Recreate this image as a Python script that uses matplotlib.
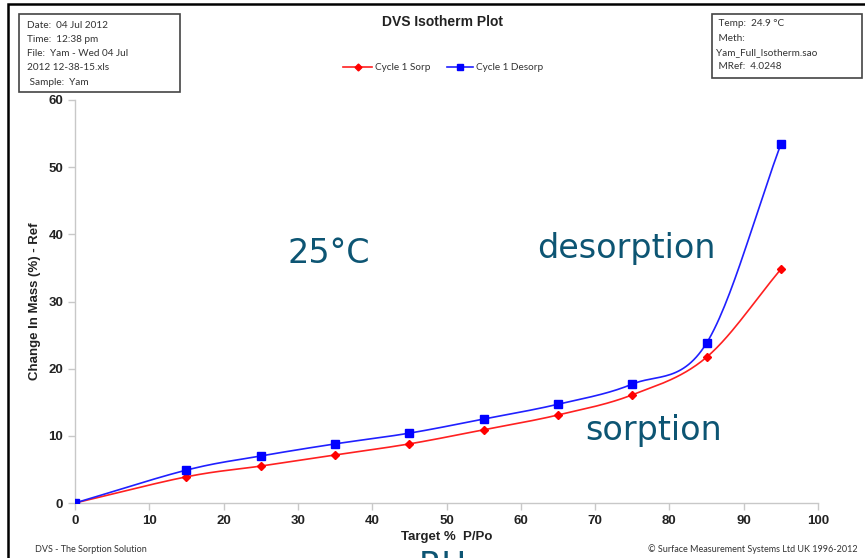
import numpy as np
import matplotlib
matplotlib.use("Agg")
import matplotlib.pyplot as plt
from matplotlib.patches import Rectangle

# -----------------------------
# Isotherm data
# -----------------------------
target_rh = [0, 15, 25, 35, 45, 55, 65, 75, 85, 95]
sorp = [0.0, 3.9, 5.5, 7.15, 8.8, 10.9, 13.1, 16.1, 21.7, 34.8]
desorp = [0.0, 4.9, 7.0, 8.8, 10.4, 12.5, 14.7, 17.7, 23.8, 53.4]

x_ticks = [0, 10, 20, 30, 40, 50, 60, 70, 80, 90, 100]
y_ticks = [0, 10, 20, 30, 40, 50, 60]

info_left = ["Date:  04 Jul 2012", "Time:  12:38 pm", "File:  Yam - Wed 04 Jul",
             "2012 12-38-15.xls", " Sample:  Yam"]
info_right = [" Temp:  24.9 \u00b0C", " Meth:", "Yam_Full_Isotherm.sao", " MRef:  4.0248"]

W, H = 865, 558
note_color = "#0d5573"


def smooth(xs, ys, n=30):
    # Catmull-Rom style smoothing, like spreadsheet "smoothed line"
    xs = np.asarray(xs, float)
    ys = np.asarray(ys, float)
    px = np.concatenate([[2 * xs[0] - xs[1]], xs, [2 * xs[-1] - xs[-2]]])
    py = np.concatenate([[2 * ys[0] - ys[1]], ys, [2 * ys[-1] - ys[-2]]])
    out_x, out_y = [], []
    t = np.linspace(0, 1, n)
    for i in range(1, len(px) - 2):
        for arr, out in ((px, out_x), (py, out_y)):
            p0, p1, p2, p3 = arr[i - 1], arr[i], arr[i + 1], arr[i + 2]
            seg = 0.5 * ((2 * p1) + (-p0 + p2) * t
                         + (2 * p0 - 5 * p1 + 4 * p2 - p3) * t ** 2
                         + (-p0 + 3 * p1 - 3 * p2 + p3) * t ** 3)
            out.extend(seg)
    return np.array(out_x), np.array(out_y)


def fx(px):
    return px / W


def fy(py):
    return 1 - py / H


fig = plt.figure(figsize=(W / 100, H / 100), dpi=100)

ax = fig.add_axes([fx(75), fy(503), fx(818) - fx(75), fy(100) - fy(503)])

sx, sy = smooth(target_rh, sorp)
dx, dy = smooth(target_rh, desorp)
ax.plot(sx, sy, color="#ff2020", lw=1.2, zorder=3)
ax.plot(dx, dy, color="#2020ff", lw=1.2, zorder=3)
ax.plot(target_rh, sorp, ls="none", marker="D", ms=4, color="#ff0000", zorder=4)
ax.plot(target_rh, desorp, ls="none", marker="s", ms=5.5, color="#0000ff", zorder=5)

ax.set_xlim(0, 100)
ax.set_ylim(0, 60)
ax.set_xticks(x_ticks)
ax.set_yticks(y_ticks)
for side in ["top", "right"]:
    ax.spines[side].set_visible(False)
for side in ["left", "bottom"]:
    ax.spines[side].set_color("#c8c8c8")
    ax.spines[side].set_linewidth(1.0)
ax.tick_params(colors="#c8c8c8", length=5, width=1.0, labelcolor="#222222",
               labelsize=9.5)
for lab in ax.get_xticklabels() + ax.get_yticklabels():
    lab.set_fontweight("bold")
    lab.set_family("Liberation Sans")
ax.set_xlabel("Target %  P/Po", fontsize=9.5, fontweight="bold",
              family="Liberation Sans", color="#222222", labelpad=3)
ax.set_ylabel("Change In Mass (%) - Ref", fontsize=9.5, fontweight="bold",
              family="Liberation Sans", color="#222222", labelpad=5)
ax.patch.set_alpha(0)

# annotations on the plot
fig.text(fx(329), fy(263), "25\u00b0C", ha="center", va="baseline",
         fontsize=24, color=note_color, family="DejaVu Sans")
fig.text(fx(537), fy(258), "desorption", ha="left", va="baseline",
         fontsize=24, color=note_color, family="DejaVu Sans")
fig.text(fx(585), fy(440), "sorption", ha="left", va="baseline",
         fontsize=24, color=note_color, family="DejaVu Sans")
fig.text(fx(443), fy(576), "RH", ha="center", va="baseline", fontsize=24,
         color=note_color, family="DejaVu Sans")

# outer frame
fig.patches.append(Rectangle((fx(8), fy(600)), 1.0, fy(4) - fy(600),
                             transform=fig.transFigure, fill=False,
                             ec="black", lw=1.8))

# info boxes
fig.patches.append(Rectangle((fx(19), fy(92)), fx(180) - fx(19), fy(14) - fy(92),
                             transform=fig.transFigure, fill=False,
                             ec="#444444", lw=1.2))
fig.patches.append(Rectangle((fx(712), fy(78)), fx(862) - fx(712), fy(14) - fy(78),
                             transform=fig.transFigure, fill=False,
                             ec="#444444", lw=1.2))
for i, line in enumerate(info_left):
    fig.text(fx(27), fy(25 + i * 14.3), line, ha="left", va="center",
             fontsize=7.2, family="Lato", color="#333333")
for i, line in enumerate(info_right):
    fig.text(fx(716), fy(24 + i * 14.3), line, ha="left", va="center",
             fontsize=7.2, family="Lato", color="#333333")

fig.text(fx(443), fy(22), "DVS Isotherm Plot", ha="center", va="center",
         fontsize=10, fontweight="bold", family="Liberation Sans", color="#222222")

# legend
fig.add_artist(plt.Line2D([fx(343), fx(372)], [fy(67), fy(67)], color="#ff2020",
                          lw=1.2, marker=None))
fig.add_artist(plt.Line2D([fx(357.5)], [fy(67)], color="#ff0000", marker="D", ms=3.5))
fig.text(fx(375), fy(67), "Cycle 1 Sorp", ha="left", va="center", fontsize=7.2,
         family="Lato", color="#333333")
fig.add_artist(plt.Line2D([fx(447), fx(473)], [fy(67), fy(67)], color="#2020ff",
                          lw=1.2))
fig.add_artist(plt.Line2D([fx(460)], [fy(67)], color="#0000ff", marker="s", ms=4.5))
fig.text(fx(476), fy(67), "Cycle 1 Desorp", ha="left", va="center", fontsize=7.2,
         family="Lato", color="#333333")

# footer
fig.text(fx(35), fy(549), "DVS - The Sorption Solution", ha="left", va="center",
         fontsize=6.5, family="Lato", color="#333333")
fig.text(fx(858), fy(549), "\u00a9 Surface Measurement Systems Ltd UK 1996-2012",
         ha="right", va="center", fontsize=6.5, family="Lato", color="#333333")

fig.savefig("out.png", dpi=100)
